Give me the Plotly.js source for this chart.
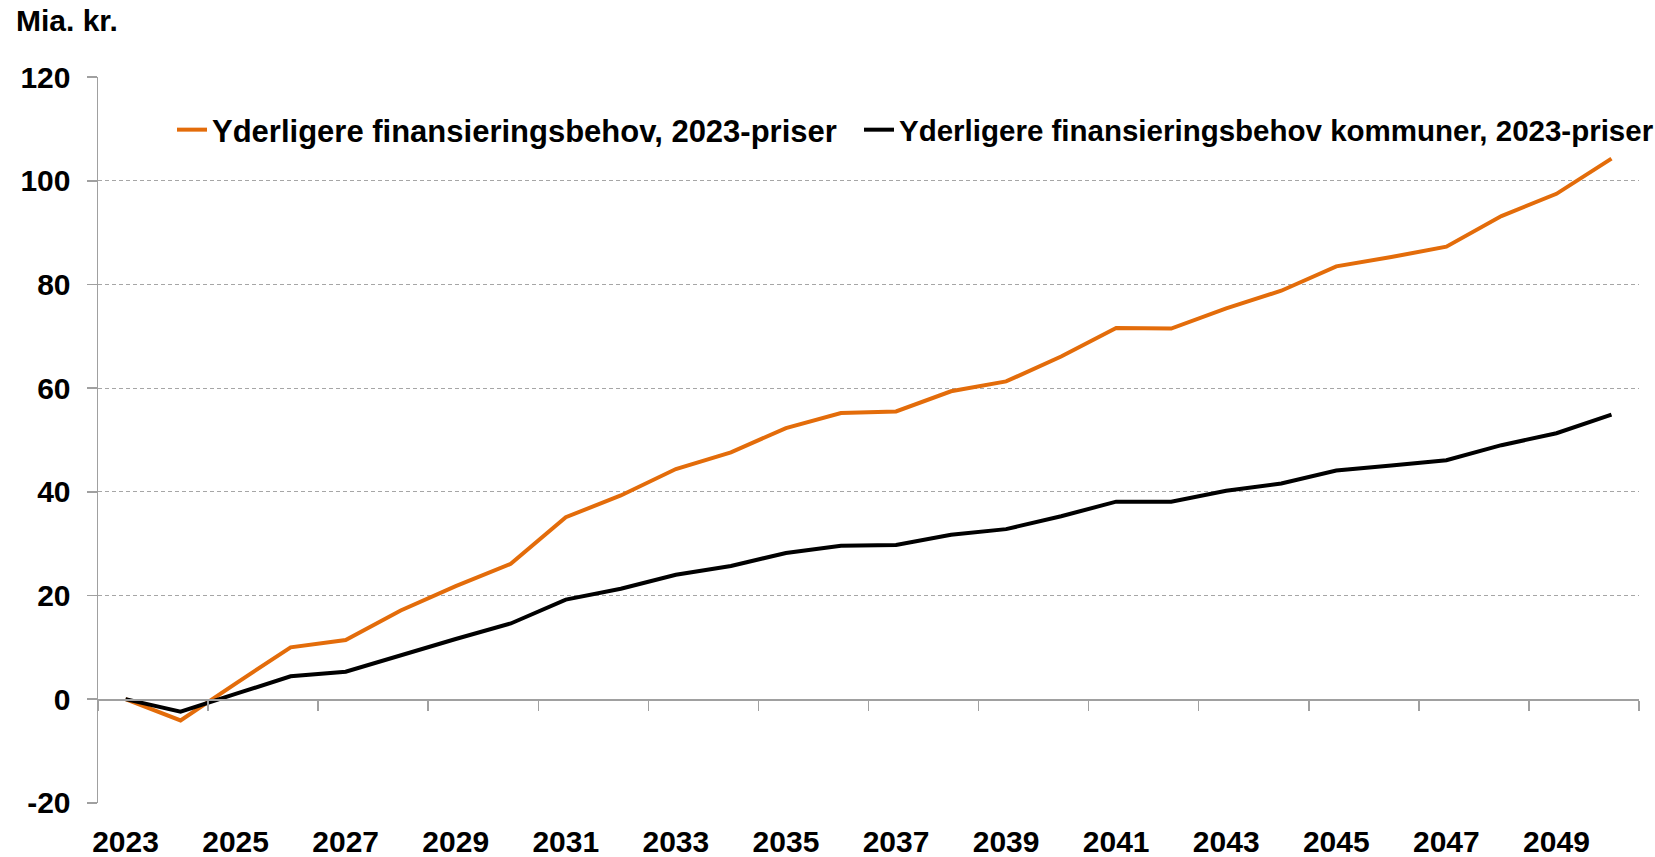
<!DOCTYPE html>
<html>
<head>
<meta charset="utf-8">
<script src="https://cdn.plot.ly/plotly-3.0.1.min.js"></script>
<style>
  html, body { margin: 0; padding: 0; background: #fff; }
  #chart { width: 1655px; height: 857px; }
</style>
</head>
<body>
<div id="chart"></div>
<script>
const years = [2023, 2024, 2025, 2026, 2027, 2028, 2029, 2030, 2031, 2032, 2033, 2034, 2035, 2036,
               2037, 2038, 2039, 2040, 2041, 2042, 2043, 2044, 2045, 2046, 2047, 2048, 2049, 2050];
const totalNeed = [0, -4.1, 3.0, 10.0, 11.4, 17.1, 21.8, 26.1, 35.1, 39.3, 44.4, 47.6, 52.3, 55.2,
                   55.5, 59.4, 61.3, 66.1, 71.6, 71.5, 75.4, 78.8, 83.5, 85.3, 87.3, 93.2, 97.5, 104.3];
const municipalNeed = [0, -2.4, 1.0, 4.4, 5.3, 8.5, 11.6, 14.6, 19.2, 21.3, 24.0, 25.7, 28.2, 29.6,
                       29.75, 31.7, 32.8, 35.3, 38.1, 38.1, 40.2, 41.6, 44.1, 45.1, 46.1, 49.0, 51.3, 54.9];
const seriesNames = ["Yderligere finansieringsbehov, 2023-priser",
                     "Yderligere finansieringsbehov kommuner, 2023-priser"];
const yTicks = [-20, 0, 20, 40, 60, 80, 100, 120];
const xLabelYears = [2023, 2025, 2027, 2029, 2031, 2033, 2035, 2037, 2039, 2041, 2043, 2045, 2047, 2049];
const unitLabel = "Mia. kr.";

const FONT = "Liberation Sans, Arial, Helvetica, sans-serif";
const GRID = "#a6a6a6";
const AXIS = "#a0a0a0";

const traces = [
  { x: years, y: totalNeed, name: seriesNames[0], type: "scatter", mode: "lines",
    xaxis: "x", yaxis: "y",
    line: { color: "#e36c0a", width: 4 }, legend: "legend", hoverinfo: "x+y" },
  { x: years, y: municipalNeed, name: seriesNames[1], type: "scatter", mode: "lines",
    xaxis: "x2", yaxis: "y",
    line: { color: "#000000", width: 4 }, legend: "legend2", hoverinfo: "x+y" }
];

const tickFont = { family: FONT, size: 30, color: "#000", weight: "bold" };

const layout = {
  width: 1655, height: 857,
  margin: { l: 98, r: 16, t: 77, b: 54, autoexpand: false },
  paper_bgcolor: "#fff", plot_bgcolor: "#fff",
  showlegend: true,
  title: { text: unitLabel, xref: "container", yref: "container", x: 16 / 1655, xanchor: "left",
           y: 1 - 20 / 857, yanchor: "middle", font: { family: FONT, size: 30, color: "#000", weight: "bold" } },
  // axis line through zero with tick marks between category pairs
  xaxis: {
    range: [2022.5, 2050.5], domain: [0, 1],
    anchor: "free", position: 20 / 140,
    showline: true, linecolor: AXIS, linewidth: 1.5,
    tickmode: "linear", tick0: 2022.5, dtick: 2,
    ticks: "outside", ticklen: 10, tickwidth: 1.5, tickcolor: AXIS,
    showticklabels: false, showgrid: false, zeroline: false, fixedrange: true
  },
  // year labels along the bottom
  xaxis2: {
    overlaying: "x", matches: "x", anchor: "y", side: "bottom",
    range: [2022.5, 2050.5],
    tickmode: "array", tickvals: xLabelYears, ticktext: xLabelYears.map(String),
    ticks: "", showline: false, showgrid: false, zeroline: false,
    ticklabelstandoff: 18,
    tickfont: tickFont
  },
  yaxis: {
    range: [-20.04, 120.04], domain: [0, 1],
    tickmode: "array", tickvals: yTicks, ticktext: yTicks.map(String),
    showline: true, linecolor: AXIS, linewidth: 1.5,
    ticks: "outside", ticklen: 10, tickwidth: 1.5, tickcolor: AXIS,
    showgrid: true, gridcolor: GRID, gridwidth: 1, griddash: "4px,3px",
    zeroline: false, ticklabelstandoff: 10,
    tickfont: tickFont
  },
  legend: {
    orientation: "h", xref: "container", yref: "container",
    x: 172 / 1655, xanchor: "left", y: 1 - 130 / 857, yanchor: "middle",
    bgcolor: "rgba(0,0,0,0)", borderwidth: 0, itemwidth: 30,
    font: { family: FONT, size: 31, color: "#000", weight: "bold" }
  },
  legend2: {
    orientation: "h", xref: "container", yref: "container",
    x: 859 / 1655, xanchor: "left", y: 1 - 130 / 857, yanchor: "middle",
    bgcolor: "rgba(0,0,0,0)", borderwidth: 0, itemwidth: 30,
    font: { family: FONT, size: 29.5, color: "#000", weight: "bold" }
  }
};

Plotly.newPlot("chart", traces, layout, { displayModeBar: false, staticPlot: true });
</script>
</body>
</html>
